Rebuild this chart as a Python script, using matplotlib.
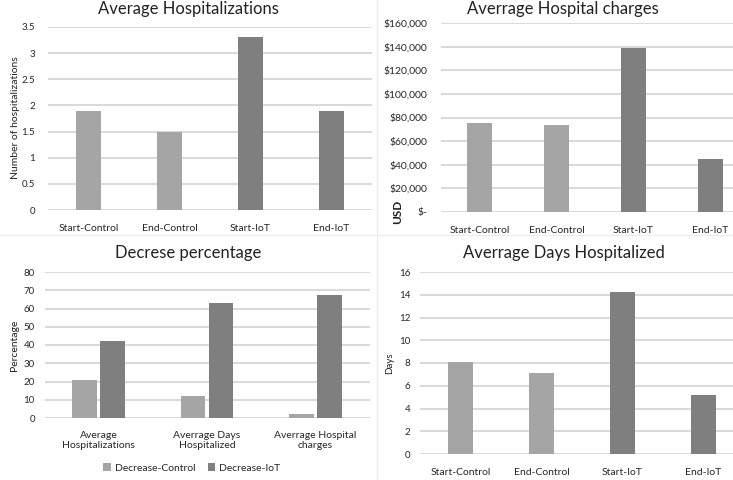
import numpy as np
import matplotlib
matplotlib.use("Agg")
import matplotlib.pyplot as plt
from matplotlib.ticker import FuncFormatter

# ---------------- data ----------------
phases = ["Start-Control", "End-Control", "Start-IoT", "End-IoT"]
hosp = [1.9, 1.5, 3.3, 1.9]
charges = [75600, 73700, 139000, 44700]
days = [8.07, 7.1, 14.2, 5.15]

dec_cats = ["Average\nHospitalizations", "Averrage Days\nHospitalized", "Averrage Hospital\ncharges"]
dec_control = [20.9, 12.0, 2.4]
dec_iot = [42.2, 63.1, 67.6]

LIGHT = "#a5a5a5"
DARK = "#7f7f7f"
GRID = "#d9d9d9"
TXT = "#262626"

plt.rcParams['font.family'] = ['Lato', 'DejaVu Sans']

W, H = 733, 480
fig = plt.figure(figsize=(W / 100, H / 100), dpi=100)


def px_axes(left, right, top, bottom):
    # pixel box -> figure fraction
    return fig.add_axes([left / W, 1 - bottom / H, (right - left) / W, (bottom - top) / H])


def style(ax, ymax, step):
    ax.set_ylim(0, ymax)
    ax.set_yticks(np.arange(0, ymax + step / 2, step))
    ax.grid(axis='y', color=GRID, lw=1.4)
    ax.set_axisbelow(True)
    for s in ax.spines.values():
        s.set_visible(False)
    ax.tick_params(length=0, labelsize=7, colors=TXT)


def ylab(xp, yp, t, **kw):
    fig.text(xp / W, 1 - yp / H, t, rotation=90, ha='center', va='center', color="#222222", **kw)


phase_colors = [LIGHT, LIGHT, DARK, DARK]

# top left
ax1 = px_axes(48, 372, 27, 210)
x = np.arange(len(phases))
ax1.bar(x, hosp, width=0.32, color=phase_colors)
ax1.set_xlim(-0.5, 3.5)
style(ax1, 3.5, 0.5)
ax1.yaxis.set_major_formatter(FuncFormatter(lambda v, p: f"{v:g}"))
ax1.set_xticks(x, phases)
ax1.tick_params(axis='x', labelsize=7.5, pad=10)
ax1.tick_params(axis='y', pad=9.4)
ylab(15, 118, "Number of hospitalizations", fontsize=7.5)

# top right
ax2 = px_axes(441, 749, 23, 212)
ax2.bar(x, charges, width=0.32, color=phase_colors)
ax2.set_xlim(-0.5, 3.5)
style(ax2, 160000, 20000)
ax2.yaxis.set_major_formatter(FuncFormatter(lambda v, p: "$-" if v == 0 else f"${v:,.0f}"))
ax2.set_xticks(x, phases)
ax2.tick_params(axis='x', labelsize=7.5, pad=10)
ax2.tick_params(axis='y', pad=10, labelsize=7.5)
ylab(398, 212, "USD", fontsize=8.5, fontweight='bold')

# bottom left
ax3 = px_axes(44.5, 369.5, 272, 418)
g = np.arange(len(dec_cats))
bw = 0.23
ax3.bar(g - bw / 2 - 0.014, dec_control, width=bw, color=LIGHT, label="Decrease-Control")
ax3.bar(g + bw / 2 + 0.014, dec_iot, width=bw, color=DARK, label="Decrease-IoT")
ax3.set_xlim(-0.5, 2.5)
style(ax3, 80, 10)
ax3.set_xticks(g, dec_cats)
ax3.tick_params(axis='x', labelsize=7.5, pad=9)
ax3.tick_params(axis='y', pad=7)
ylab(15, 345, "Percentage", fontsize=7.5)
fig.legend(*ax3.get_legend_handles_labels(), loc='center', bbox_to_anchor=(192 / W, 1 - 468 / H),
           ncol=2, frameon=False, fontsize=7.5, handlelength=0.7, handleheight=0.7,
           columnspacing=1.2, handletextpad=0.4, labelcolor=TXT)

# bottom right
ax4 = px_axes(420, 744, 272, 454)
ax4.bar(x, days, width=0.32, color=phase_colors)
ax4.set_xlim(-0.5, 3.5)
style(ax4, 16, 2)
ax4.set_xticks(x, phases)
ax4.tick_params(axis='x', labelsize=7.5, pad=10)
ax4.tick_params(axis='y', pad=7)
ylab(390, 363, "Days", fontsize=7)

# titles
for tx, ty, t in [(188, 9, "Average Hospitalizations"), (563, 9, "Averrage Hospital charges"),
                  (188, 253, "Decrese percentage"), (564, 253, "Averrage Days Hospitalized")]:
    fig.text(tx / W, 1 - ty / H, t, ha='center', va='center', fontsize=12, color="#222222")

# faint panel borders
fig.add_artist(plt.Line2D([0, 1], [1 - 235 / H] * 2, color="#ececec", lw=1))
fig.add_artist(plt.Line2D([377 / W] * 2, [0, 1], color="#ececec", lw=1))

fig.savefig("out.png", dpi=100)
